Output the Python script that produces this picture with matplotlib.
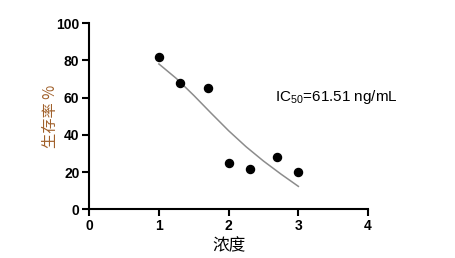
import numpy as np
import matplotlib.pyplot as plt

plt.rcParams['font.family'] = ['Liberation Sans', 'Noto Sans CJK SC', 'DejaVu Sans']
plt.rcParams['mathtext.fontset'] = 'custom'
plt.rcParams['mathtext.rm'] = 'Liberation Sans'
plt.rcParams['mathtext.it'] = 'Liberation Sans'

# log concentration and survival rate (%)
log_conc = [1.0, 1.3, 1.7, 2.0, 2.3, 2.7, 3.0]
survival = [81.9, 67.9, 65.2, 24.9, 21.7, 28.1, 20.1]

# fitted curve
fit_x = [1.0, 1.25, 1.5, 1.75, 2.0, 2.25, 2.5, 2.75, 3.0]
fit_y = [78.1, 70.3, 61.2, 51.6, 42.2, 33.6, 25.9, 18.9, 12.3]

x_ticks = [0, 1, 2, 3, 4]
y_ticks = [0, 20, 40, 60, 80, 100]

fig = plt.figure(figsize=(4.55, 2.58), dpi=100)
ax = fig.add_axes([0.196, 0.189, 0.613, 0.721])

ax.plot(fit_x, fit_y, color='#8c8c8c', lw=1.1, zorder=2)
ax.plot(log_conc, survival, 'o', color='black', markersize=5.8, zorder=3)

ax.set_xlim(0, 4)
ax.set_ylim(0, 100)
ax.set_xticks(x_ticks)
ax.set_yticks(y_ticks)

for side in ['top', 'right']:
    ax.spines[side].set_visible(False)
for side in ['left', 'bottom']:
    ax.spines[side].set_linewidth(1.5)
ax.tick_params(direction='out', length=5, width=1.5, pad=2)
for lbl in ax.get_xticklabels() + ax.get_yticklabels():
    lbl.set_fontsize(10)
    lbl.set_fontweight('bold')

ax.set_xlabel('浓度', fontsize=12, family=['Noto Sans CJK SC', 'DejaVu Sans'], labelpad=3)
ax.set_ylabel('生存率 %', fontsize=11, color='#a0602a',
              family=['Noto Sans CJK SC', 'DejaVu Sans'], labelpad=-2)

ax.text(2.67, 60.4, 'IC$_{50}$=61.51 ng/mL', fontsize=11, va='center', ha='left')

fig.savefig('out.png', dpi=100)
